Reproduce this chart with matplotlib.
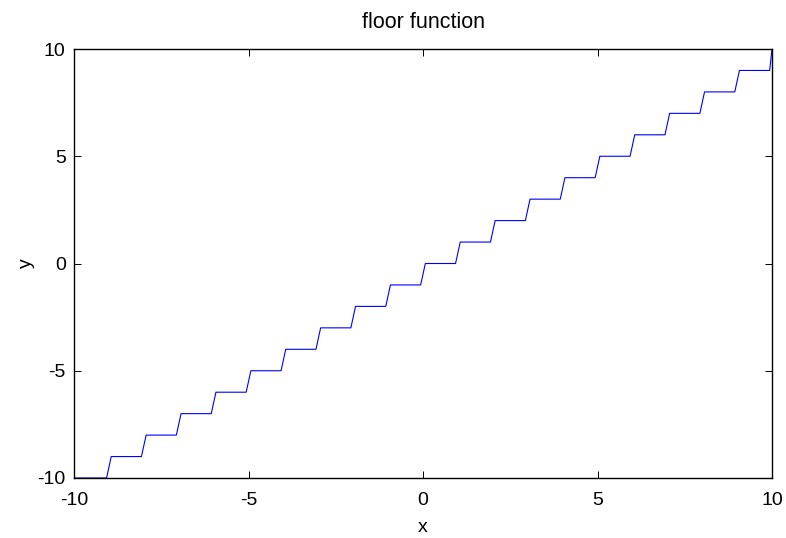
import numpy as np
import matplotlib
matplotlib.use("Agg")
import matplotlib.pyplot as plt

plt.rcParams['font.family'] = ['Liberation Sans', 'DejaVu Sans']
plt.rcParams['axes.unicode_minus'] = False

# floor(x) levels and the integer x where each new level starts
levels = [-10, -9, -8, -7, -6, -5, -4, -3, -2, -1, 0, 1, 2, 3, 4, 5, 6, 7, 8, 9, 10]
jumps = [-9, -8, -7, -6, -5, -4, -3, -2, -1, 0, 1, 2, 3, 4, 5, 6, 7, 8, 9, 10]
half_w = 0.067  # sample spacing makes each riser slightly slanted
ticks = [-10, -5, 0, 5, 10]

xs = [-10]
ys = [levels[0]]
for j, lo, hi in zip(jumps, levels[:-1], levels[1:]):
    xs += [j - half_w, min(j + half_w, 10)]
    ys += [lo, hi]

fig = plt.figure(figsize=(7.86, 5.38), dpi=100)
ax = fig.add_axes([74 / 786, 60 / 538, 698 / 786, 429 / 538])
ax.plot(xs, ys, color="#0000ff", linewidth=0.8)

ax.set_xlim(-10, 10)
ax.set_ylim(-10, 10)
ax.set_xticks(ticks)
ax.set_yticks(ticks)
ax.tick_params(direction="in", length=5, width=0.7, top=True, right=True,
               labelsize=14)
ax.tick_params(axis="x", pad=10)
ax.tick_params(axis="y", pad=6)
for s in ax.spines.values():
    s.set_linewidth(1.0)

ax.set_title("floor function", fontsize=15.5, pad=15)
ax.set_xlabel("x", fontsize=14, labelpad=7)
ax.set_ylabel("y", fontsize=14, labelpad=2)

fig.savefig("out.png", dpi=100)
